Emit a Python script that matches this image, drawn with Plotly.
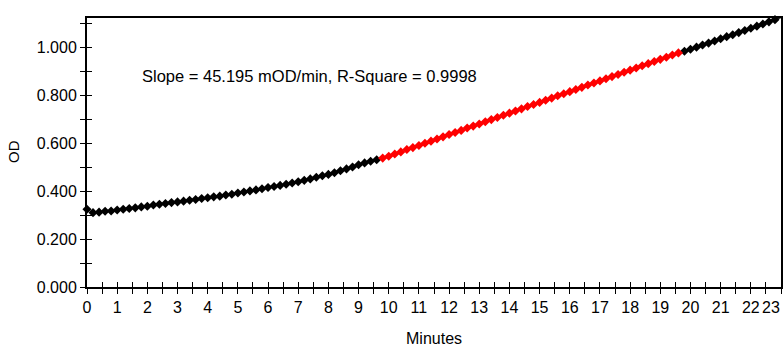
import numpy as np
import plotly.graph_objects as go

# Times (minutes) and OD readings
t_pre = [0.0, 0.2, 0.4, 0.6, 0.8, 1.0, 1.2, 1.4, 1.6, 1.8, 2.0, 2.2, 2.4, 2.6, 2.8,
         3.0, 3.2, 3.4, 3.6, 3.8, 4.0, 4.2, 4.4, 4.6, 4.8, 5.0, 5.2, 5.4, 5.6, 5.8,
         6.0, 6.2, 6.4, 6.6, 6.8, 7.0, 7.2, 7.4, 7.6, 7.8, 8.0, 8.2, 8.4, 8.6, 8.8,
         9.0, 9.2, 9.4, 9.6]
od_pre = [0.325, 0.311, 0.313, 0.317, 0.318, 0.322, 0.325, 0.328, 0.331, 0.335,
          0.338, 0.343, 0.346, 0.349, 0.353, 0.356, 0.359, 0.363, 0.366, 0.370,
          0.373, 0.377, 0.380, 0.385, 0.388, 0.393, 0.397, 0.402, 0.406, 0.411,
          0.416, 0.420, 0.425, 0.430, 0.435, 0.440, 0.446, 0.452, 0.459, 0.465,
          0.471, 0.478, 0.486, 0.494, 0.502, 0.511, 0.519, 0.526, 0.532]

t_fit = [9.8, 10.0, 10.2, 10.4, 10.6, 10.8, 11.0, 11.2, 11.4, 11.6, 11.8, 12.0,
         12.2, 12.4, 12.6, 12.8, 13.0, 13.2, 13.4, 13.6, 13.8, 14.0, 14.2, 14.4,
         14.6, 14.8, 15.0, 15.2, 15.4, 15.6, 15.8, 16.0, 16.2, 16.4, 16.6, 16.8,
         17.0, 17.2, 17.4, 17.6, 17.8, 18.0, 18.2, 18.4, 18.6, 18.8, 19.0, 19.2,
         19.4, 19.6]
od_fit = [0.539, 0.547, 0.556, 0.565, 0.575, 0.583, 0.592, 0.601, 0.610, 0.619,
          0.628, 0.638, 0.646, 0.655, 0.665, 0.673, 0.682, 0.691, 0.700, 0.709,
          0.718, 0.727, 0.736, 0.745, 0.755, 0.763, 0.772, 0.781, 0.790, 0.800,
          0.808, 0.817, 0.826, 0.835, 0.845, 0.853, 0.862, 0.871, 0.880, 0.889,
          0.898, 0.907, 0.916, 0.925, 0.934, 0.943, 0.952, 0.961, 0.970, 0.979]

t_post = [19.8, 20.0, 20.2, 20.4, 20.6, 20.8, 21.0, 21.2, 21.4, 21.6, 21.8, 22.0,
          22.2, 22.4, 22.6, 22.8, 23.0]
od_post = [0.986, 0.994, 1.003, 1.012, 1.020, 1.029, 1.038, 1.047, 1.055, 1.064,
           1.073, 1.082, 1.091, 1.100, 1.109, 1.118, 1.126]

# x tick positions/labels (last label drawn separately so it is not clipped)
x_tick_vals = [0, 1, 2, 3, 4, 5, 6, 7, 8, 9, 10, 11, 12, 13, 14, 15, 16, 17, 18,
               19, 20, 21, 22, 23]
x_tick_text = ["0", "1", "2", "3", "4", "5", "6", "7", "8", "9", "10", "11", "12",
               "13", "14", "15", "16", "17", "18", "19", "20", "21", "22", ""]
last_x_label = "23"

annotation_text = "Slope = 45.195 mOD/min, R-Square = 0.9998"
x_title = "Minutes"
y_title = "OD"

slope, intercept = np.polyfit(t_fit, od_fit, 1)
fit_x = [t_fit[0], t_fit[-1]]
fit_y = [slope * x + intercept for x in fit_x]

FONT = "Liberation Sans, Arial, sans-serif"

fig = go.Figure()
black_marker = dict(symbol="diamond", size=7, color="black")
fig.add_trace(go.Scatter(x=t_pre, y=od_pre, mode="lines+markers",
                         line=dict(color="black", width=1), marker=black_marker,
                         cliponaxis=False, showlegend=False))
fig.add_trace(go.Scatter(x=t_post, y=od_post, mode="lines+markers",
                         line=dict(color="black", width=1), marker=black_marker,
                         cliponaxis=False, showlegend=False))
fig.add_trace(go.Scatter(x=fit_x, y=fit_y, mode="lines",
                         line=dict(color="blue", width=1, dash="dot"),
                         showlegend=False))
fig.add_trace(go.Scatter(x=t_fit, y=od_fit, mode="markers",
                         marker=dict(symbol="diamond", size=7, color="red"),
                         cliponaxis=False, showlegend=False))
# invisible trace on overlay axes to activate them
fig.add_trace(go.Scatter(x=[0], y=[0], xaxis="x2", yaxis="y2", mode="markers",
                         marker=dict(opacity=0), showlegend=False, hoverinfo="skip"))

fig.add_annotation(x=0.0764, y=0.784, xref="paper", yref="paper", xanchor="left",
                   yanchor="middle", text=annotation_text, showarrow=False,
                   font=dict(family=FONT, size=16.5, color="black"))
fig.add_annotation(x=0.5, y=0, xref="paper", yref="paper", yshift=-51,
                   xanchor="center", yanchor="middle", text=x_title, showarrow=False,
                   font=dict(family=FONT, size=16, color="black"))
fig.add_annotation(x=0, y=0.502, xref="paper", yref="paper", xshift=-73,
                   xanchor="center", yanchor="middle", text=y_title, showarrow=False,
                   textangle=-90, font=dict(family=FONT, size=15, color="black"))
fig.add_annotation(x=1, y=0, xref="paper", yref="paper", xshift=1, yshift=-20,
                   xanchor="right", yanchor="middle", text=last_x_label,
                   showarrow=False, font=dict(family=FONT, size=16, color="black"))

common_x = dict(range=[0, 23], showgrid=False, zeroline=False, automargin=False)
common_y = dict(range=[0, 1.125], dtick=0.2, tick0=0, showgrid=False, zeroline=False,
                automargin=False)

fig.update_layout(
    width=783, height=347,
    margin=dict(l=87, r=2, t=18, b=60, autoexpand=False),
    paper_bgcolor="white", plot_bgcolor="white",
    font=dict(family=FONT, size=16, color="black"),
    xaxis=dict(**common_x, showline=True, linecolor="black", linewidth=2, mirror=True,
               tickmode="array", tickvals=x_tick_vals, ticktext=x_tick_text,
               ticks="outside", ticklen=5, tickcolor="black", tickwidth=1,
               minor=dict(dtick=0.5, tick0=0, ticks="outside", ticklen=5,
                          tickcolor="black"),
               tickfont=dict(size=16)),
    yaxis=dict(**common_y, showline=True, linecolor="black", linewidth=2, mirror=True,
               ticks="outside", ticklen=5, tickcolor="black", tickwidth=1,
               tickformat=".3f", ticklabeloverflow="allow",
               minor=dict(dtick=0.1, ticks="outside", ticklen=5, tickcolor="black"),
               tickfont=dict(size=16)),
    xaxis2=dict(**common_x, dtick=1, tick0=0, overlaying="x", anchor="y2",
                side="bottom", showticklabels=False, showline=False,
                ticks="inside", ticklen=5, tickcolor="black",
                minor=dict(dtick=0.5, ticks="inside", ticklen=5, tickcolor="black")),
    yaxis2=dict(**common_y, overlaying="y", anchor="x2", side="left",
                showticklabels=False, showline=False,
                ticks="inside", ticklen=5, tickcolor="black",
                minor=dict(dtick=0.1, ticks="inside", ticklen=5, tickcolor="black")),
)

fig.write_html("out.html", config={"displayModeBar": False},
               post_script="document.body.style.margin='0px';document.body.style.overflow='hidden';")
